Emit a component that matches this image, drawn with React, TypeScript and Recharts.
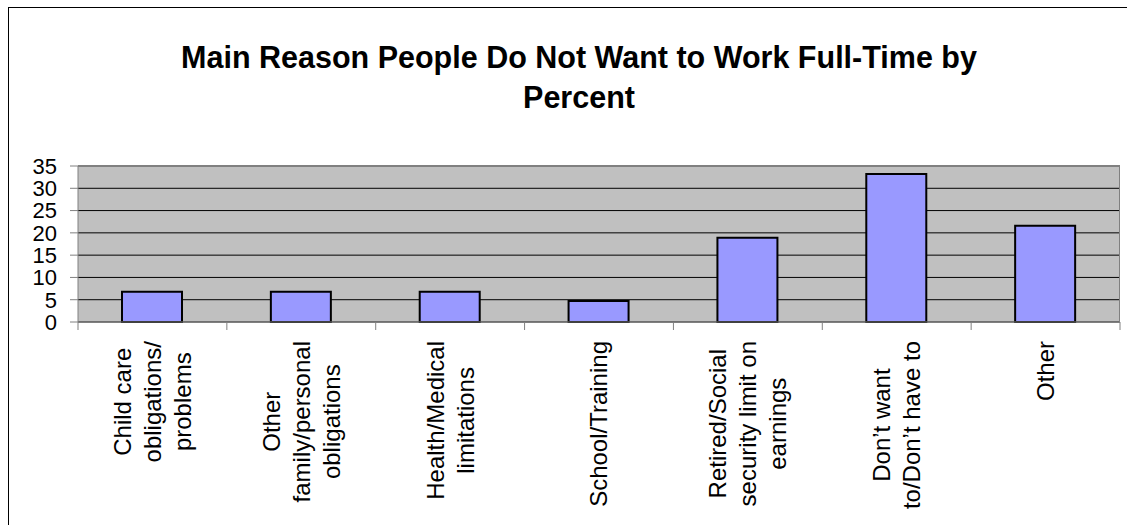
import React from 'react';
import { BarChart, Bar, XAxis, YAxis, CartesianGrid } from 'recharts';

// category labels, one entry per line of the wrapped axis label
const categoryLines: string[][] = [
  ['Child care', 'obligations/', 'problems'],
  ['Other', 'family/personal', 'obligations'],
  ['Health/Medical', 'limitations'],
  ['School/Training'],
  ['Retired/Social', 'security limit on', 'earnings'],
  ['Don’t want', 'to/Don’t have to'],
  ['Other'],
];
const percents = [6.8, 6.8, 6.8, 4.7, 18.9, 33.2, 21.6];
const yTicks = [0, 5, 10, 15, 20, 25, 30, 35];

const titleLines = ['Main Reason People Do Not Want to Work Full-Time by', 'Percent'];

const FONT = "'Liberation Sans', Arial, sans-serif";
const CHART_W = 1118;
const CHART_H = 517;
const Y_AXIS_W = 69;
const RIGHT_GAP = 7;
const PLOT_TOP = 158;
const X_AXIS_H = 203;
const BAND = (CHART_W - Y_AXIS_W - RIGHT_GAP) / percents.length;

const LABEL_SIZE = 24;
const LABEL_LINE = 30;
const LABEL_GAP = 19;

const data = categoryLines.map((lines, i) => ({
  name: lines.join(' '),
  value: percents[i],
}));

let ctx: CanvasRenderingContext2D | null = null;
function textWidth(s: string) {
  if (!ctx) {
    ctx = document.createElement('canvas').getContext('2d');
  }
  if (!ctx) return s.length * LABEL_SIZE * 0.5;
  ctx.font = `${LABEL_SIZE}px 'Liberation Sans', Arial`;
  return ctx.measureText(s).width;
}

function CategoryTick(props: any) {
  const { x, y, index } = props;
  const lines = categoryLines[index] || [];
  const half = BAND / 2;
  const maxLen = Math.max(...lines.map(textWidth));
  const cy = y + LABEL_GAP + maxLen / 2;
  const n = lines.length;
  return (
    <g>
      <line x1={x - half} y1={y} x2={x - half} y2={y + 8} stroke="#808080" />
      {index === categoryLines.length - 1 && (
        <line x1={x + half} y1={y} x2={x + half} y2={y + 8} stroke="#808080" />
      )}
      {lines.map((t, i) => (
        <text
          key={i}
          x={x}
          y={cy + (i - (n - 1) / 2) * LABEL_LINE + LABEL_SIZE * 0.35}
          transform={`rotate(-90 ${x} ${cy})`}
          textAnchor="middle"
          fontSize={LABEL_SIZE}
          fontFamily={FONT}
          fill="#000"
        >
          {t}
        </text>
      ))}
    </g>
  );
}

export default function App() {
  return (
    <div
      style={{
        position: 'absolute',
        left: 8,
        top: 7,
        width: CHART_W,
        height: CHART_H,
        borderLeft: '1px solid #000',
        borderTop: '1px solid #000',
        background: '#fff',
        fontFamily: FONT,
      }}
    >
      <div
        style={{
          position: 'absolute',
          left: 70,
          top: 29,
          width: 1000,
          textAlign: 'center',
          fontSize: 30.5,
          fontWeight: 'bold',
          lineHeight: '40px',
          color: '#000',
        }}
      >
        {titleLines.map((t) => (
          <div key={t}>{t}</div>
        ))}
      </div>
      <BarChart
        width={CHART_W}
        height={CHART_H}
        data={data}
        margin={{ top: PLOT_TOP, right: RIGHT_GAP, bottom: 0, left: 0 }}
      >
        <CartesianGrid fill="#C0C0C0" stroke="#000" vertical={false} />
        <XAxis
          dataKey="name"
          height={X_AXIS_H}
          interval={0}
          tickLine={false}
          tickSize={0}
          tickMargin={0}
          axisLine={{ stroke: '#808080' }}
          tick={<CategoryTick />}
        />
        <YAxis
          width={Y_AXIS_W}
          domain={[0, 35]}
          ticks={yTicks}
          interval={0}
          tickSize={8}
          tickMargin={13}
          axisLine={{ stroke: '#808080' }}
          tickLine={{ stroke: '#808080' }}
          tick={{ fill: '#000', fontSize: 22, fontFamily: FONT }}
        />
        <Bar
          dataKey="value"
          fill="#9999FF"
          stroke="#000"
          strokeWidth={2}
          barSize={60}
          isAnimationActive={false}
        />
      </BarChart>
      <div
        style={{
          position: 'absolute',
          left: Y_AXIS_W,
          top: PLOT_TOP,
          width: CHART_W - Y_AXIS_W - RIGHT_GAP,
          height: CHART_H - PLOT_TOP - X_AXIS_H,
          borderTop: '1px solid #808080',
          borderRight: '1px solid #808080',
          boxSizing: 'border-box',
          pointerEvents: 'none',
        }}
      />
    </div>
  );
}
